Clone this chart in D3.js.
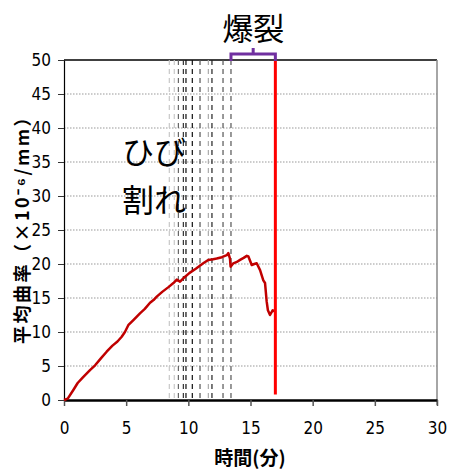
<!DOCTYPE html>
<html><head><meta charset="utf-8">
<script src="https://cdn.jsdelivr.net/npm/d3@7"></script>
<style>body{margin:0;background:#fff}svg{display:block}</style>
</head><body>
<script>
const xTicks = [0,5,10,15,20,25,30];
const yTicks = [0,5,10,15,20,25,30,35,40,45,50];
const crackTimes = [8.47,8.87,9.2,9.6,9.81,10.32,10.94,11.61,11.9,12.79,13.43];
const crackColors = ["#c8c8c8","#c8c8c8","#666","#333","#111","#111","#555","#aaa","#222","#555","#555"];
const curveTime = [0,0.3,0.75,1.1,1.5,2.09,2.5,3.0,3.43,3.9,4.3,4.64,4.9,5.17,5.6,6.11,6.5,6.92,7.2,7.46,7.9,8.4,8.8,9.07,9.33,9.6,10.1,10.6,11.2,11.6,12.0,12.28,12.7,13.09,13.22,13.35,13.4,13.62,13.9,14.16,14.45,14.7,14.83,15.1,15.3,15.5,15.77,16.03,16.17,16.3,16.4,16.57,16.79,16.97];
const curveValue = [0,0.2,1.47,2.5,3.3,4.4,5.1,6.2,7.1,8.0,8.6,9.3,10.0,11.0,11.8,12.75,13.4,14.3,14.7,15.2,15.9,16.6,17.2,17.7,17.4,17.9,18.7,19.3,20.1,20.6,20.7,20.8,21.0,21.3,21.6,20.8,19.6,20.1,20.3,20.6,20.9,21.2,21.1,19.85,20.0,20.1,19.1,17.6,17.2,14.5,13.2,12.5,13.2,13.0];
const burstTime = 17.0;
const burstStart = 13.43;

const W=449,H=470;
const svg=d3.select("body").append("svg").attr("width",W).attr("height",H);
const x=d3.scaleLinear().domain([0,30]).range([64,437]);
const y=d3.scaleLinear().domain([0,50]).range([400,60]);
const numFont='"Liberation Sans Narrow","Arial Narrow","DejaVu Sans Condensed",sans-serif';
const jpFont='"Noto Sans CJK JP",sans-serif';

svg.append("g").selectAll("line").data(yTicks.filter(d=>d>0&&d<50)).join("line")
  .attr("x1",x(0)).attr("x2",x(30)).attr("y1",d=>y(d)).attr("y2",d=>y(d))
  .attr("stroke","#999").attr("stroke-width",1.2).attr("stroke-dasharray","1.5,1.5");
svg.append("line").attr("x1",x(0)).attr("x2",x(30)).attr("y1",y(50)).attr("y2",y(50)).attr("stroke","#000").attr("stroke-width",1.5);
svg.append("line").attr("x1",x(30)).attr("x2",x(30)).attr("y1",y(50)).attr("y2",y(0)+5).attr("stroke","#888").attr("stroke-width",1.5);

svg.append("g").selectAll("line").data(crackTimes).join("line")
  .attr("x1",d=>x(d)).attr("x2",d=>x(d)).attr("y1",y(50)).attr("y2",y(0))
  .attr("stroke",(d,i)=>crackColors[i]).attr("stroke-width",1.2).attr("stroke-dasharray","5,4");

const yAxis=svg.append("g").attr("transform",`translate(${x(0)},0)`)
  .call(d3.axisLeft(y).tickValues(yTicks).tickSize(6).tickSizeOuter(0));
yAxis.select(".domain").attr("stroke","#000").attr("stroke-width",1.2);
yAxis.selectAll(".tick line").attr("stroke","#333");
yAxis.selectAll("text").attr("font-family",numFont).attr("font-size",17).attr("fill","#000").attr("x",-13);

const xAxis=svg.append("g").attr("transform",`translate(0,${y(0)})`)
  .call(d3.axisBottom(x).tickValues(xTicks).tickSize(6).tickSizeOuter(0));
xAxis.select(".domain").attr("stroke","#000").attr("stroke-width",2.5);
xAxis.selectAll(".tick line").attr("stroke","#555").attr("stroke-width",1.5);
xAxis.selectAll("text").attr("font-family",numFont).attr("font-size",17).attr("fill","#000").attr("y",22);

const pts=curveTime.map((t,i)=>[t,curveValue[i]]);
svg.append("path").datum(pts).attr("fill","none").attr("stroke","#C00000").attr("stroke-width",2.5)
  .attr("stroke-linejoin","round")
  .attr("d",d3.line().x(d=>x(d[0])).y(d=>y(d[1])));

svg.append("line").attr("x1",x(burstTime)).attr("x2",x(burstTime)).attr("y1",y(50)).attr("y2",y(0.8))
  .attr("stroke","#FF0000").attr("stroke-width",3);

const bx1=x(burstStart), bx2=x(burstTime), bm=(bx1+bx2)/2;
svg.append("path").attr("fill","none").attr("stroke","#7030A0").attr("stroke-width",3)
  .attr("d",`M${bx1},${y(50)+1}V${y(50)-6}H${bx2}V${y(50)+1}M${bm},${y(50)-6}V${y(50)-12}`);

svg.append("text").attr("x",bm).attr("y",40).attr("text-anchor","middle").attr("font-family",jpFont).attr("font-size",31).attr("fill","#000").text("爆裂");
svg.append("text").attr("x",122).attr("y",164).attr("font-family",jpFont).attr("font-size",32).attr("fill","#000").text("ひび");
svg.append("text").attr("x",122).attr("y",212).attr("font-family",jpFont).attr("font-size",32).attr("fill","#000").text("割れ");

svg.append("text").attr("x",250).attr("y",465).attr("text-anchor","middle").attr("font-family",jpFont).attr("font-weight","bold").attr("font-size",19).text("時間(分)");
svg.append("text").attr("transform","translate(29,225) rotate(-90)").attr("text-anchor","middle").attr("font-family",jpFont).attr("font-weight","bold").attr("font-size",18).attr("letter-spacing",2.5)
  .text("平均曲率（×10⁻⁶/mm）");
</script>
</body></html>
